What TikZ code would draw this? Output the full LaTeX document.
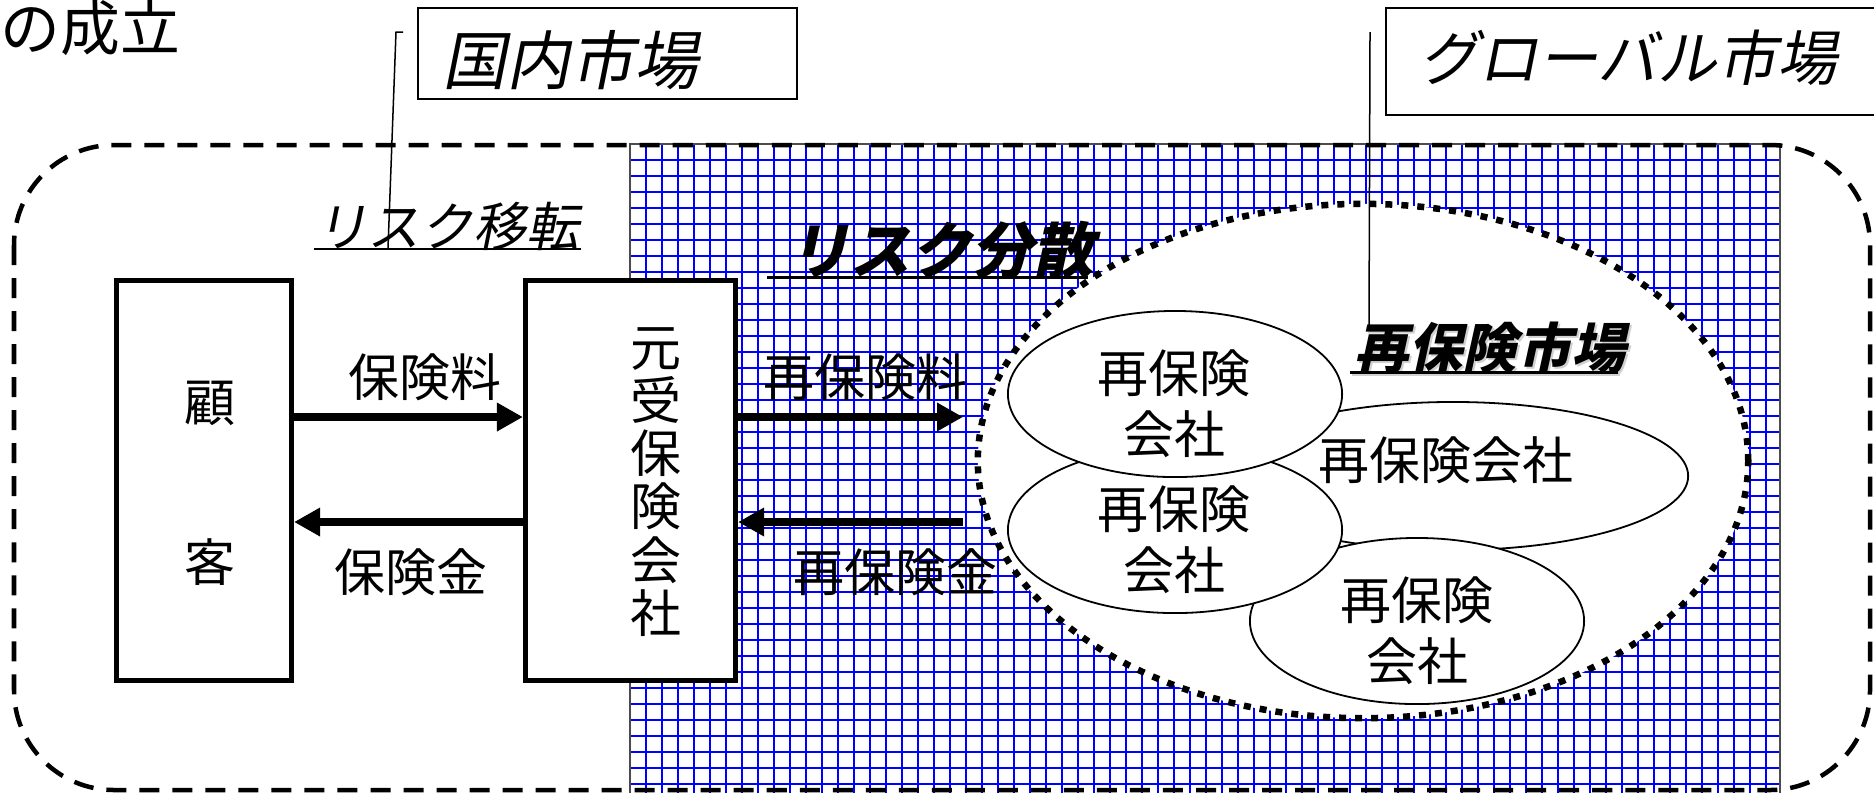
\documentclass[tikz,border=0pt]{standalone}
\usepackage{fontspec}
\usetikzlibrary{arrows.meta,shapes.geometric}
\newfontfamily\jp{Noto Sans CJK JP}
\newfontfamily\jpit{Noto Sans CJK JP}[FakeSlant=0.2]
\newfontfamily\jpbi{Noto Sans CJK JP}[FakeSlant=0.22]
\begin{document}
\begin{tikzpicture}[x=0.01cm,y=-0.01cm,
  txt/.style={inner sep=0, font=\jp\fontsize{14.5pt}{17.4pt}\selectfont, align=center},
  boxnode/.style={draw, line width=0.05cm, fill=white, inner sep=0},
  gridline/.style={blue, line width=0.024cm},
  fat/.style={line width=0.085cm, -{Triangle[length=0.26cm,width=0.27cm]}},
  co/.style={draw, line width=0.018cm, fill=white, ellipse, inner sep=0},
  lead/.style={line width=0.015cm},
  tag/.style={draw, line width=0.015cm, inner sep=0},
]
\useasboundingbox (0,0) rectangle (1874,793);
\fill[white] (0,0) rectangle (1874,793);
% blue grid
\foreach \i in {1,...,71} \draw[gridline] ({630+16*\i},144) -- ({630+16*\i},793);
\foreach \j in {1,...,40} \draw[gridline] (630,{144+16*\j}) -- (1780,{144+16*\j});
\draw[line width=0.015cm, black!70] (630,793) -- (630,144) -- (1780,144) -- (1780,793);
% reinsurance market (dotted)
\node[draw, ellipse, fill=white, line width=0.065cm, dash pattern=on 0.07cm off 0.09cm,
      minimum width=7.7cm, minimum height=5.14cm, inner sep=0] (mkt) at (1363,461) {};
% dashed frame
\draw[line width=0.045cm, dash pattern=on 0.2cm off 0.13cm, rounded corners=1cm] (14,145) rectangle (1870,790);
% title fragment
\node[anchor=west, inner sep=0, font=\jp\fontsize{17pt}{20pt}\selectfont] (title) at (0,28) {の成立};
% tags
\node[tag, minimum width=3.79cm, minimum height=0.91cm] (dom) at (607.5,53.5) {};
\node[inner sep=0, font=\jpit\fontsize{18.2pt}{20pt}\selectfont] (domt) at (570,60) {国内市場};
\node[tag, minimum width=5.04cm, minimum height=1.07cm] (glob) at (1638,61.5) {};
\node[inner sep=0, font=\jpit\fontsize{17pt}{20pt}\selectfont] (globt) at (1628,58) {グローバル市場};
% boxes
\node[boxnode, minimum width=1.75cm, minimum height=4cm] (cust) at (204,480.5) {};
\node[boxnode, minimum width=2.1cm, minimum height=4cm] (orig) at (630.5,480.5) {};
\node[txt, font=\jp\fontsize{14.5pt}{45.5pt}\selectfont] (custt) at (210,483) {顧\\客};
\node[txt, font=\jp\fontsize{14.5pt}{15.1pt}\selectfont] (origt) at (656,482) {元\\受\\保\\険\\会\\社};
% arrows
\coordinate (yA) at (0,417);
\coordinate (yB) at (0,522);
\coordinate (rp) at (963,417);
\coordinate (rk) at (963,522);
\draw[fat] (cust.east |- yA) -- (orig.west |- yA);
\draw[fat] (orig.west |- yB) -- (cust.east |- yB);
\draw[fat] (orig.east |- yA) -- (rp);
\draw[fat] (rk) -- (orig.east |- yB);
\node[txt] (tP) at (425,377) {保険料};
\node[txt] (tK) at (411,572) {保険金};
\node[txt] (tRP) at (865,377) {再保険料};
\node[txt] (tRK) at (895,572) {再保険金};
% reinsurers
\node[co, minimum width=4.7cm, minimum height=1.48cm] (e3) at (1453,476) {};
\node[co, minimum width=3.34cm, minimum height=1.66cm] (e4) at (1417,621) {};
\node[co, minimum width=3.34cm, minimum height=1.66cm] (e2) at (1175,530) {};
\node[co, minimum width=3.34cm, minimum height=1.66cm] (e1) at (1175,394) {};
\node[txt] (t1) at (1174,404) {再保険\\会社};
\node[txt] (t2) at (1174,540) {再保険\\会社};
\node[txt] (t4) at (1417,631) {再保険\\会社};
\node[txt] (t3) at (1446,460) {再保険会社};
% headings
\node[inner sep=0, font=\jpit\fontsize{15pt}{18pt}\selectfont] (rt) at (447,226) {リスク移転};
\draw[line width=0.022cm] (314,249) -- (581,249);
\node[inner sep=0, font=\jpbi\bfseries\fontsize{17.4pt}{20pt}\selectfont] (rd) at (941,250) {リスク分散};
\draw[line width=0.03cm] (767,277) -- (1088,277);
\node[inner sep=0, text=black!18, font=\jpbi\bfseries\fontsize{15.4pt}{18pt}\selectfont] (rmS) at (1492,350) {再保険市場};
\draw[line width=0.03cm, black!18] (1352,374) -- (1620,374);
\node[inner sep=0, font=\jpbi\bfseries\fontsize{15.4pt}{18pt}\selectfont] (rm) at (1490,348) {再保険市場};
\draw[line width=0.03cm] (1350,372) -- (1618,372);
% leader lines
\coordinate (l1a) at (403,32);
\coordinate (l1b) at (396,32);
\coordinate (l1c) at (388,248);
\draw[lead] (l1a) -- (l1b) -- (l1c);
\coordinate (l2a) at (1370,32);
\coordinate (l2b) at (1369,325);
\draw[lead] (l2a) -- (l2b);
\end{tikzpicture}
\end{document}
